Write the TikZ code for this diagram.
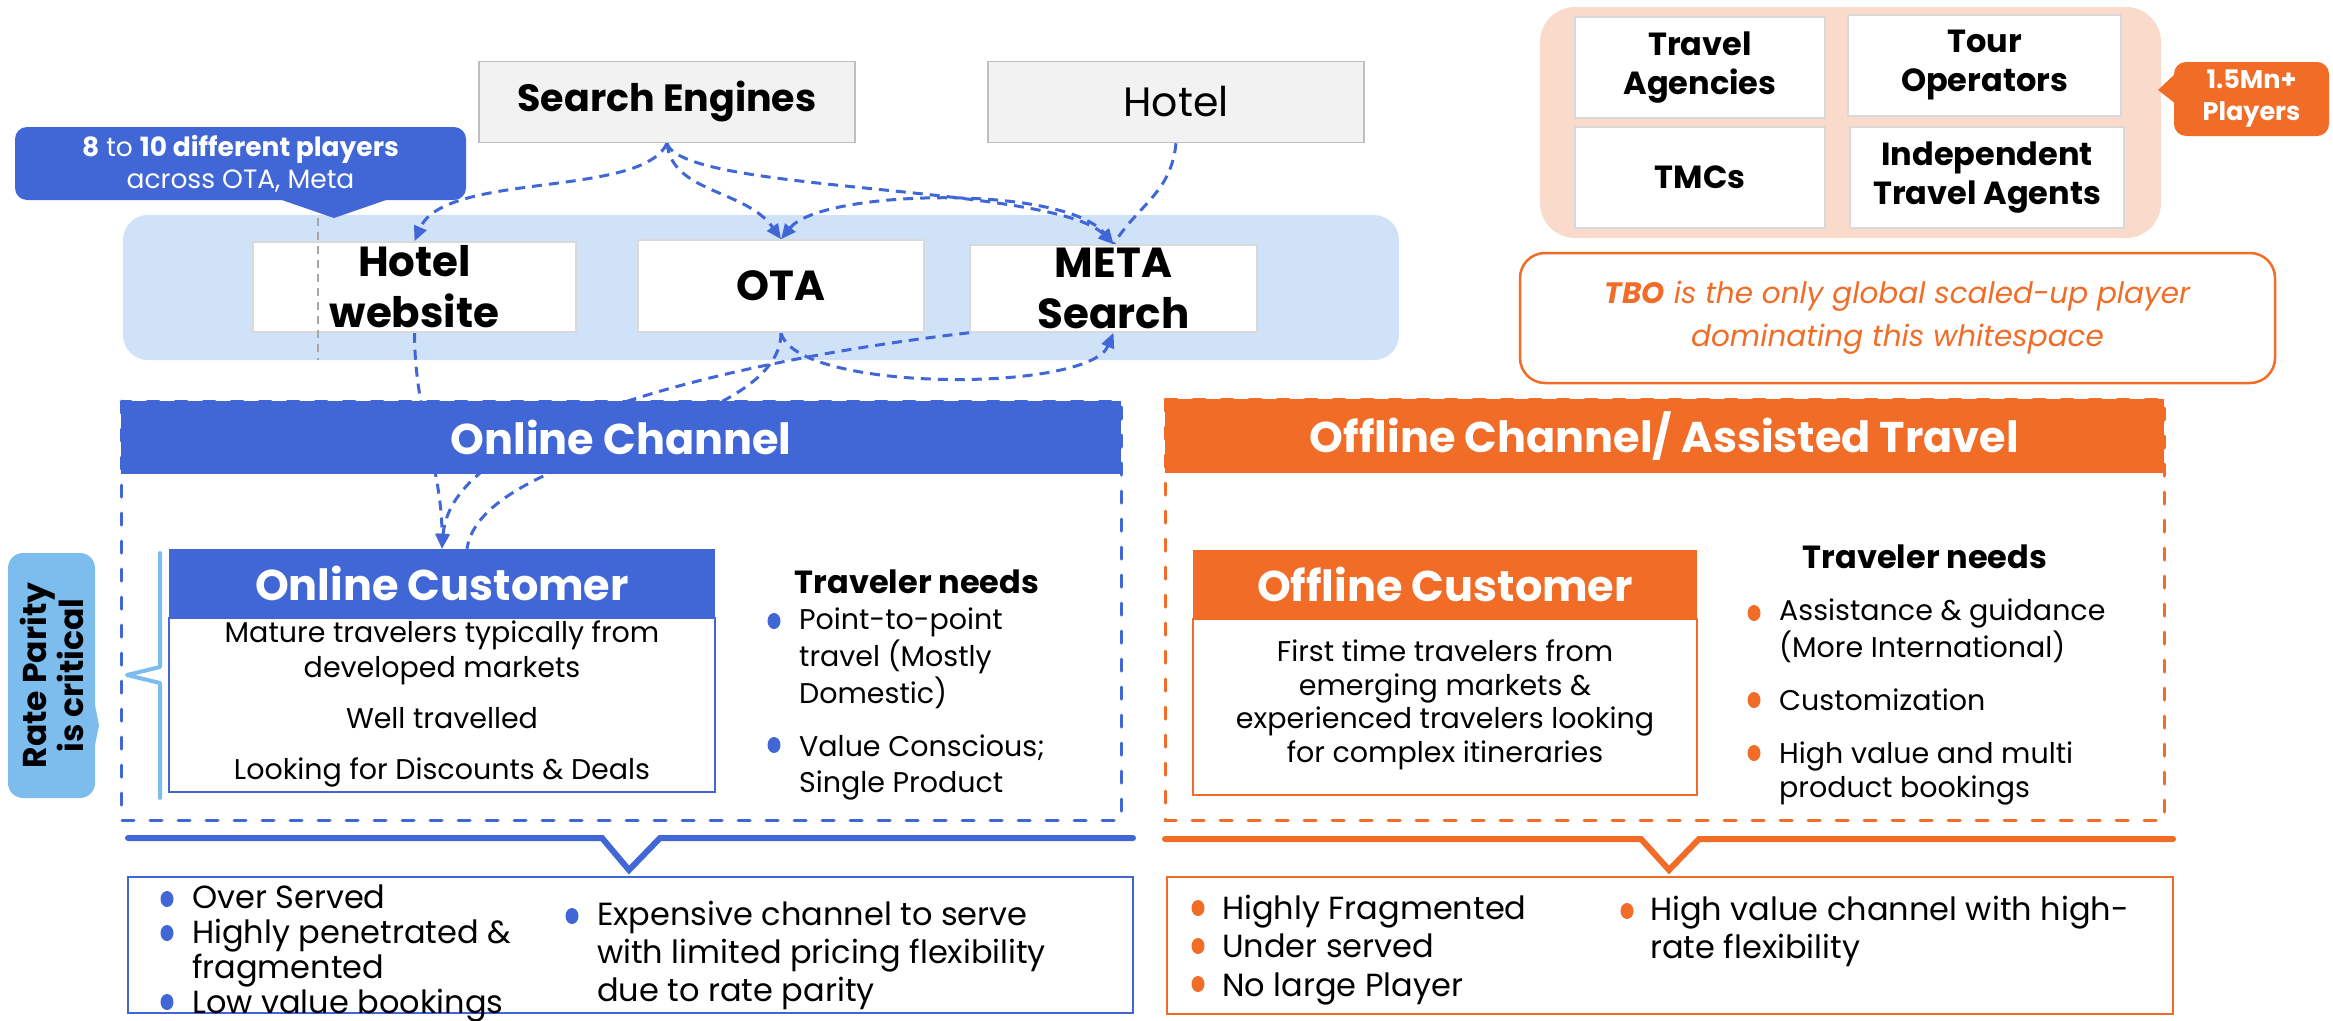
\documentclass[tikz,border=0pt]{standalone}
\usepackage{fontspec}
\setmainfont{Poppins}
\usetikzlibrary{arrows.meta}

\definecolor{chanblue}{RGB}{65,103,214}
\definecolor{panelblue}{RGB}{208,226,247}
\definecolor{chanorange}{RGB}{241,108,38}
\definecolor{peach}{RGB}{250,219,203}
\definecolor{srcfill}{RGB}{242,242,242}
\definecolor{srcline}{RGB}{191,191,191}
\definecolor{rateblue}{RGB}{125,189,238}
\definecolor{boxedge}{RGB}{217,217,217}

\pgfdeclarelayer{back}
\pgfdeclarelayer{links}
\pgfsetlayers{back,links,main}

\tikzset{
  srcbox/.style={draw=srcline, fill=srcfill, line width=1.5pt, minimum width=376pt, minimum height=81pt},
  webbox/.style={draw=boxedge, fill=white, line width=1.5pt, inner sep=0pt, align=center, font=\fontsize{42}{51}\selectfont\bfseries},
  grpbox/.style={draw=boxedge, fill=white, line width=1.5pt, inner sep=0pt, align=center, font=\fontsize{32}{39}\selectfont\bfseries},
  chanhead/.style={fill=#1, text=white, inner sep=0pt, font=\fontsize{43}{48}\selectfont\bfseries},
  custhead/.style={fill=#1, text=white, minimum height=69pt, inner sep=0pt, font=\fontsize{43}{48}\selectfont\bfseries},
  needtitle/.style={inner sep=0pt, font=\fontsize{32}{36}\selectfont\bfseries},
  bodytext/.style={align=center, inner sep=0pt, font=\fontsize{28.5}{35}\selectfont},
  bullets/.style={anchor=west, inner sep=0pt},
  dashlink/.style={chanblue, line width=3pt, dash pattern=on 10pt off 7pt, -{Triangle[length=15pt,width=13pt]}},
  plainlink/.style={dashlink, -},
  framebox/.style={line width=3pt, dash pattern=on 12pt off 16pt, line cap=round},
  notch/.style={line width=6pt, line cap=round},
}

\begin{document}
\begin{tikzpicture}[x=1pt, y=-1pt]
\useasboundingbox (0,0) rectangle (2333,1020);

\begin{pgfonlayer}{back}
\fill[panelblue, rounded corners=25pt] (123,215) rectangle (1399,360);
\fill[peach, rounded corners=35pt] (1540,7) rectangle (2161,238);
\end{pgfonlayer}

\node[srcbox, font=\fontsize{38}{42}\selectfont\bfseries] (search) at (667,102) {Search Engines};
\node[srcbox, font=\fontsize{41}{44}\selectfont] (hotel) at (1176,102) {Hotel};

\node[fill=chanblue, text=white, rounded corners=12pt, minimum width=451pt, minimum height=73pt, align=center, inner sep=0pt, font=\fontsize{26.5}{32}\selectfont] (players) at (240.5,163.5) {\textbf{8} to \textbf{10 different players}\\across OTA, Meta};
\fill[chanblue] (279,199) -- (334,218) -- (389,199) -- cycle;

\node[webbox, minimum width=323pt, minimum height=90pt] (hotelweb) at (414.5,287) {Hotel\\website};
\node[webbox, minimum width=286pt, minimum height=92pt] (ota) at (781,286) {OTA};
\node[webbox, minimum width=287pt, minimum height=87pt] (meta) at (1113.5,288.5) {META\\Search};

\coordinate (ptop) at (318,218);
\coordinate (pfoot) at (318,360);
\draw[gray!70, line width=2pt, dash pattern=on 8pt off 6pt] (ptop) -- (pfoot);

% online side
\draw[chanblue, framebox] (121,401) rectangle (1121,820);
\node[chanhead=chanblue, minimum width=1000pt, minimum height=73pt] (onchan) at (621,437.5) {Online Channel};
\node[custhead=chanblue, minimum width=546pt] (oncust) at (442,583.5) {Online Customer};
\draw[chanblue, line width=2pt] (oncust.south west) rectangle (715,792);
\node[bodytext] (onbody) at (442,703.5) {Mature travelers typically from\\developed markets\\[16pt]Well travelled\\[16pt]Looking for Discounts \& Deals};
\node[needtitle] (onneedtitle) at (917,582) {Traveler needs};
\node[bullets, font=\fontsize{28.5}{35.5}\selectfont] (onneeds) at (799,703.5) {\begin{tabular}{@{}l@{}}
Point-to-point\\ travel (Mostly\\ Domestic)\\[17.5pt]
Value Conscious;\\ Single Product
\end{tabular}};
\foreach \y in {621,745} \fill[chanblue] (774,\y) ellipse (6.5 and 8);

\node[fill=rateblue, rounded corners=15pt, rotate=90, minimum width=245pt, minimum height=87pt, align=center, inner sep=0pt, font=\fontsize{33}{37}\selectfont\bfseries] (rate) at (51.5,675.5) {Rate Parity\\is critical};
\fill[rateblue] (94,700) -- (99,725) -- (94,750) -- cycle;
\draw[rateblue, line width=4pt, line cap=round, line join=round] (160,553) -- (160,667) -- (127,675) -- (160,683) -- (160,798);

\draw[chanblue, notch] (128,838) -- (602,838) -- (629,870) -- (660,838) -- (1133,838);
\draw[chanblue, line width=2pt] (128,877) rectangle (1133,1013);
\node[bullets, font=\fontsize{32}{35}\selectfont] (onlow) at (192,953.5) {\begin{tabular}{@{}l@{}}
Over Served\\
Highly penetrated \&\\ fragmented\\
Low value bookings
\end{tabular}};
\foreach \y in {899,933,1002} \fill[chanblue] (167,\y) ellipse (6.5 and 8);
\node[bullets, font=\fontsize{32}{38}\selectfont] (oncost) at (597,955.5) {\begin{tabular}{@{}l@{}}
Expensive channel to serve\\ with limited pricing flexibility\\ due to rate parity
\end{tabular}};
\foreach \y in {916} \fill[chanblue] (572,\y) ellipse (6.5 and 8);

% offline side
\draw[chanorange, framebox] (1165,399) rectangle (2164,820);
\node[chanhead=chanorange, minimum width=999pt, minimum height=74pt] (offchan) at (1664.5,436) {Offline Channel/ Assisted Travel};
\node[custhead=chanorange, minimum width=504pt] (offcust) at (1445,584) {Offline Customer};
\draw[chanorange, line width=2pt] (offcust.south west) rectangle (1697,795);
\node[bodytext, font=\fontsize{28.5}{33.5}\selectfont] (offbody) at (1445,705) {First time travelers from\\emerging markets \&\\experienced travelers looking\\for complex itineraries};
\node[needtitle] (offneedtitle) at (1925,557) {Traveler needs};
\node[bullets, font=\fontsize{28.5}{34}\selectfont] (offneeds) at (1779,702) {\begin{tabular}{@{}l@{}}
Assistance \& guidance\\ (More International)\\[19pt]
Customization\\[19pt]
High value and multi\\ product bookings
\end{tabular}};
\foreach \y in {613,700,753} \fill[chanorange] (1754,\y) ellipse (6.5 and 8);

\draw[chanorange, notch] (1165,839) -- (1641,839) -- (1669,870) -- (1699,839) -- (2173,839);
\draw[chanorange, line width=2pt] (1167,877) rectangle (2173,1014);
\node[bullets, font=\fontsize{32}{38.5}\selectfont] (offfrag) at (1222,950) {\begin{tabular}{@{}l@{}}
Highly Fragmented\\
Under served\\
No large Player
\end{tabular}};
\foreach \y in {908,946,984} \fill[chanorange] (1198,\y) ellipse (6.5 and 8);
\node[bullets, font=\fontsize{32}{37.5}\selectfont] (offvalue) at (1650,932) {\begin{tabular}{@{}l@{}}
High value channel with high-\\ rate flexibility
\end{tabular}};
\foreach \y in {911} \fill[chanorange] (1627,\y) ellipse (6.5 and 8);

% assisted players
\node[grpbox, minimum width=250pt, minimum height=101pt] (agencies) at (1700,67.5) {Travel\\Agencies};
\node[grpbox, minimum width=273pt, minimum height=101pt] (operators) at (1984.5,65.5) {Tour\\Operators};
\node[grpbox, minimum width=250pt, minimum height=101pt] (tmcs) at (1700,177.5) {TMCs};
\node[grpbox, minimum width=274pt, minimum height=101pt] (agents) at (1987,177.5) {Independent\\Travel Agents};
\node[fill=chanorange, text=white, rounded corners=12pt, minimum width=155pt, minimum height=74pt, align=center, inner sep=0pt, font=\fontsize{25.5}{32}\selectfont\bfseries] (count) at (2251.5,99) {1.5Mn+\\Players};
\fill[chanorange] (2176,73) -- (2158,90) -- (2176,104) -- cycle;
\node[draw=chanorange, line width=2.5pt, rounded corners=25pt, minimum width=755pt, minimum height=130pt, align=center, inner sep=0pt, text=chanorange, font=\fontsize{29.5}{43}\selectfont\itshape] (tbo) at (1897.5,318) {\textbf{TBO} is the only global scaled-up player\\dominating this whitespace};

\begin{pgfonlayer}{links}
\draw[dashlink] (search.south) .. controls +(-25,55) and +(30,-70) .. (hotelweb.north);
\draw[dashlink] (search.south) .. controls +(5,50) and +(-35,-50) .. (ota.north);
\draw[dashlink] (search.south) .. controls +(15,50) and +(-60,-60) .. (meta.north);
\draw[dashlink, {Triangle[length=15pt,width=13pt]}-{Triangle[length=15pt,width=13pt]}] (ota.north) .. controls +(40,-50) and +(-50,-60) .. (meta.north);
\draw[plainlink] (hotel.south) .. controls +(-5,50) and +(25,-40) .. (meta.north);
\draw[dashlink] (ota.south) .. controls +(15,60) and +(-25,60) .. (meta.south);
\draw[plainlink] (ota.south) .. controls +(0,100) and +(15,-100) .. ([xshift=25pt]oncust.north);
\draw[dashlink] (hotelweb.south) .. controls +(0,80) and +(0,-80) .. (oncust.north);
\draw[dashlink] (meta.south west) .. controls +(-200,23) and +(10,-130) .. (oncust.north);
\end{pgfonlayer}
\end{tikzpicture}
\end{document}
